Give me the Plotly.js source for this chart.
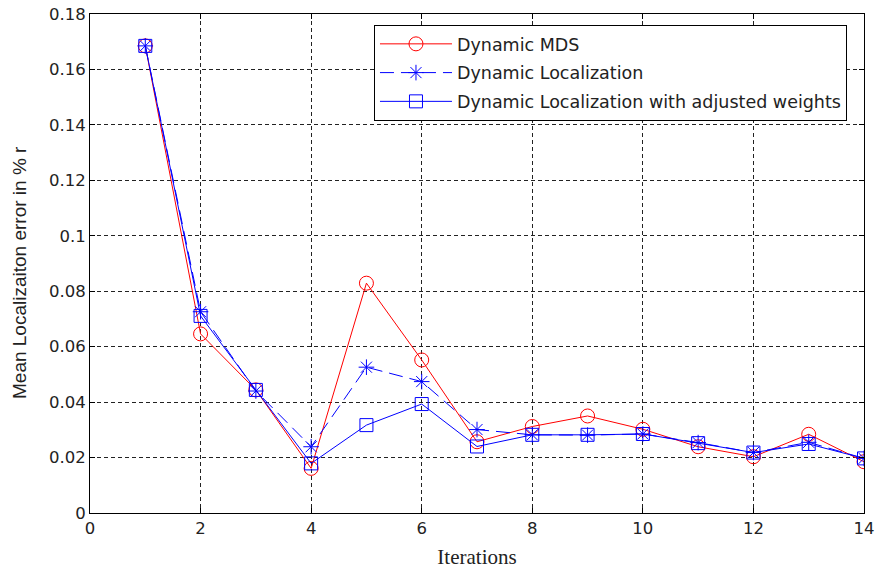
<!DOCTYPE html>
<html>
<head>
<meta charset="utf-8">
<script src="https://cdn.plot.ly/plotly-3.0.1.min.js"></script>
<style>html,body{margin:0;padding:0;background:#fff;}#chart{width:876px;height:572px;}</style>
</head>
<body>
<div id="chart"></div>
<script>
const iterations = [1,2,3,4,5,6,7,8,9,10,11,12,13,14];
const dynamicMDS = [0.1685,0.0646,0.0444,0.0161,0.0829,0.0552,0.0257,0.0312,0.0350,0.0302,0.0239,0.0203,0.0284,0.0185];
const dynamicLoc = [0.1685,0.0726,0.0440,0.0239,0.0526,0.0474,0.0301,0.0282,0.0281,0.0285,0.0254,0.0218,0.0255,0.0197];
const dynamicLocAdj = [0.1685,0.0711,0.0444,0.0179,0.0317,0.0393,0.0240,0.0282,0.0282,0.0285,0.0252,0.0218,0.0249,0.0197];
const seriesNames = ["Dynamic MDS","Dynamic Localization","Dynamic Localization with adjusted weights"];
const xTicks = [0,2,4,6,8,10,12,14];
const yTicks = [0,0.02,0.04,0.06,0.08,0.1,0.12,0.14,0.16,0.18];
const xTitle = "Iterations";
const yTitle = "Mean Localizaiton error in % r";

const traces = [
  {x: iterations, y: dynamicMDS, name: seriesNames[0], legendgroup: "a", mode: "lines+markers",
   line: {color: "#ff0000", width: 1},
   marker: {symbol: "circle-open", size: 14, color: "#ff0000", line: {width: 1}}},
  {x: iterations, y: dynamicLoc, name: seriesNames[1], legendgroup: "b", mode: "lines+markers",
   line: {color: "#0000ff", width: 1, dash: "14px,7px"},
   marker: {symbol: "asterisk-open", size: 13, color: "#0000ff", line: {width: 1, color: "#0000ff"}}},
  {x: iterations, y: dynamicLocAdj, name: seriesNames[2], legendgroup: "c", mode: "lines+markers",
   line: {color: "#0000ff", width: 1},
   marker: {symbol: "square-open", size: 13, color: "#0000ff", line: {width: 1}}}
];

const axisCommon = {
  showline: true, linecolor: "#000", linewidth: 1, mirror: "allticks",
  ticks: "inside", ticklen: 5, tickcolor: "#000",
  showgrid: true, gridcolor: "#222", griddash: "4px,3px", gridwidth: 1,
  zeroline: false,
  tickfont: {family: "DejaVu Sans, sans-serif", size: 16.5, color: "#222"}
};

const layout = {
  width: 876, height: 572,
  margin: {l: 90, r: 12, t: 14, b: 59},
  paper_bgcolor: "#fff", plot_bgcolor: "#fff",
  showlegend: true,
  xaxis: Object.assign({}, axisCommon, {
    range: [0, 14], tickvals: xTicks, ticktext: xTicks.map(String),
    title: {text: xTitle, standoff: 12, font: {family: "Liberation Serif, Times New Roman, serif", size: 21, color: "#222"}}
  }),
  yaxis: Object.assign({}, axisCommon, {
    range: [0, 0.18], tickvals: yTicks, ticktext: yTicks.map(String),
    title: {text: ""}
  }),
  annotations: [{
    text: yTitle, textangle: -90, showarrow: false,
    xref: "paper", yref: "paper", x: -0.0904, y: 0.481,
    xanchor: "center", yanchor: "middle",
    font: {family: "Liberation Sans, Arial, sans-serif", size: 19, color: "#222"}
  }],
  legend: {
    x: 0.978, y: 0.978, xanchor: "right", yanchor: "top",
    bgcolor: "#fff", bordercolor: "#000", borderwidth: 1,
    font: {family: "DejaVu Sans, sans-serif", size: 17.5, color: "#222"},
    tracegroupgap: 3, itemwidth: 72
  }
};

Plotly.newPlot("chart", traces, layout, {displayModeBar: false, staticPlot: true});
</script>
</body>
</html>
